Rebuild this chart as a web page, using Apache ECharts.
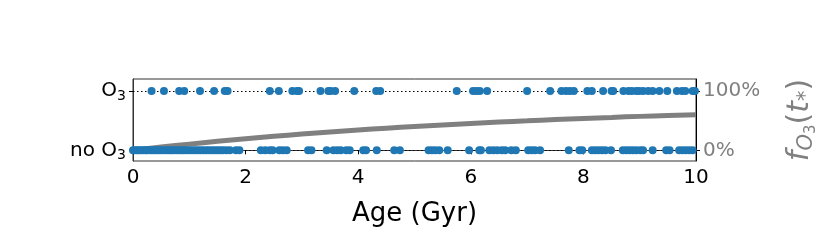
<!DOCTYPE html>
<html><head><meta charset="utf-8">
<script src="https://cdn.jsdelivr.net/npm/echarts@6/dist/echarts.min.js"></script>
<style>html,body{margin:0;padding:0;background:#fff}#c{width:830px;height:242px}</style>
</head><body><div id="c"></div>
<script>
// Ages (Gyr) of planets with O3 detected
const agesO3 = [0.33,0.55,0.82,0.91,1.19,1.44,1.63,1.68,2.43,2.59,2.83,2.91,2.95,3.33,3.47,3.51,3.59,3.93,4.32,4.39,
  5.75,6.04,6.10,6.16,6.29,7.00,7.41,7.61,7.69,7.76,7.83,8.07,8.15,8.35,8.50,8.53,8.71,8.80,8.86,8.94,8.99,9.06,9.15,9.23,9.35,9.49,9.66,9.75,9.81,9.94,9.98];
// Ages (Gyr) of planets without O3
const agesNoO3 = [0.0,0.03,0.07,0.1,0.14,0.18,0.22,0.25,0.3,0.34,0.38,0.42,0.46,0.5,0.55,0.6,0.64,0.68,0.72,0.77,0.82,0.86,0.9,0.95,1.0,1.05,1.1,1.15,1.2,1.25,1.3,1.35,1.4,1.45,1.5,1.55,1.6,1.66,1.72,
  1.83,1.89,2.27,2.35,2.43,2.48,2.60,2.66,2.73,3.11,3.17,3.44,3.56,3.63,3.69,3.79,3.85,4.09,4.14,4.33,4.64,4.74,
  5.25,5.31,5.37,5.44,5.59,5.97,6.15,6.18,6.33,6.40,6.47,6.55,6.61,6.72,6.80,7.02,7.08,7.14,7.23,7.74,7.93,7.98,8.15,8.21,8.27,8.33,8.39,8.49,8.70,8.76,8.82,8.88,8.94,9.01,9.06,9.23,9.47,9.53,9.70,9.76,9.82,9.88,9.94];
// O3 fraction curve
const curveT = [0,0.5,1,1.5,2,2.5,3,3.5,4,4.5,5,5.5,6,6.5,7,7.5,8,8.5,9,9.5,10];
const curveF = [0,0.054,0.104,0.151,0.194,0.235,0.273,0.308,0.341,0.372,0.401,0.427,0.452,0.476,0.497,0.518,0.537,0.554,0.571,0.586,0.600];
const xTicks = [0,2,4,6,8,10];
const leftLabels = ['no O3','O3'];
const rightLabels = ['0%','100%'];

const chart = echarts.init(document.getElementById('c'), null, {renderer:'canvas'});
const FONT = 'DejaVu Sans';
const subRich = {
  n:{fontSize:20,fontFamily:FONT,color:'#000'},
  s:{fontSize:14,fontFamily:FONT,color:'#000',padding:[10,0,0,0]}
};
function leftFmt(v){
  if (v===1) return '{n|O}{s|3}';
  if (v===0) return '{n|no O}{s|3}';
  return '';
}
const G = '#808080';
chart.setOption({
  animation:false,
  grid:{left:133,right:134,top:79,bottom:81,show:true,borderColor:'#333',borderWidth:1},
  xAxis:{type:'value',min:0,max:10,interval:2,
    axisLine:{show:true,lineStyle:{color:'#333',width:1}},
    axisTick:{show:true,length:4,lineStyle:{color:'#000'}},
    axisLabel:{fontSize:20,fontFamily:FONT,color:'#000',margin:7,customValues:xTicks},
    splitLine:{show:false},
    name:'Age (Gyr)',nameLocation:'middle',nameGap:40,
    nameTextStyle:{fontSize:26,fontFamily:FONT,color:'#000'}},
  yAxis:[
    {type:'value',min:-0.18,max:1.2,position:'left',
     axisLine:{show:true,lineStyle:{color:'#333'}},
     axisTick:{show:true,length:4,customValues:[0,1],lineStyle:{color:'#000'}},
     axisLabel:{customValues:[0,1],formatter:leftFmt,rich:subRich,margin:7},
     splitLine:{show:false}},
    {type:'value',min:-0.18,max:1.2,position:'right',
     axisLine:{show:true,lineStyle:{color:'#000'}},
     axisTick:{show:true,length:4,customValues:[0,1],lineStyle:{color:'#000'}},
     axisLabel:{customValues:[0,1],fontSize:20,fontFamily:FONT,color:G,margin:7,
       formatter:v=>v===1?rightLabels[1]:(v===0?rightLabels[0]:'')},
     splitLine:{show:false},
     name:'{f|f}{o|O}{t|3}{p|(}{f|t}{st|*}{p|)}',nameLocation:'middle',nameGap:86,nameRotate:90,
     nameTextStyle:{rich:{
       f:{fontSize:30,fontFamily:FONT,fontStyle:'italic',color:G},
       p:{fontSize:30,fontFamily:FONT,color:G},
       o:{fontSize:21,fontFamily:FONT,fontStyle:'italic',color:G,padding:[12,0,0,0]},
       t:{fontSize:15,fontFamily:FONT,color:G,padding:[22,0,0,0]},
       st:{fontSize:21,fontFamily:FONT,color:G,padding:[12,0,0,0]}
     }}}
  ],
  series:[
    {type:'line',yAxisIndex:1,data:curveT.map((t,i)=>[t,curveF[i]]),smooth:true,showSymbol:false,
     lineStyle:{color:G,width:5},z:1,silent:true},
    {type:'scatter',yAxisIndex:0,data:agesO3.map(a=>[a,1]),symbolSize:8,
     itemStyle:{color:'#1f77b4',opacity:1},z:3,
     markLine:{silent:true,symbol:'none',label:{show:false},z:2,
       lineStyle:{type:[1.5,2.5],color:'#000',width:1},data:[{yAxis:0},{yAxis:1}]}},
    {type:'scatter',yAxisIndex:0,data:agesNoO3.map(a=>[a,0]),symbolSize:8,
     itemStyle:{color:'#1f77b4',opacity:1},z:3}
  ]
});
</script></body></html>
